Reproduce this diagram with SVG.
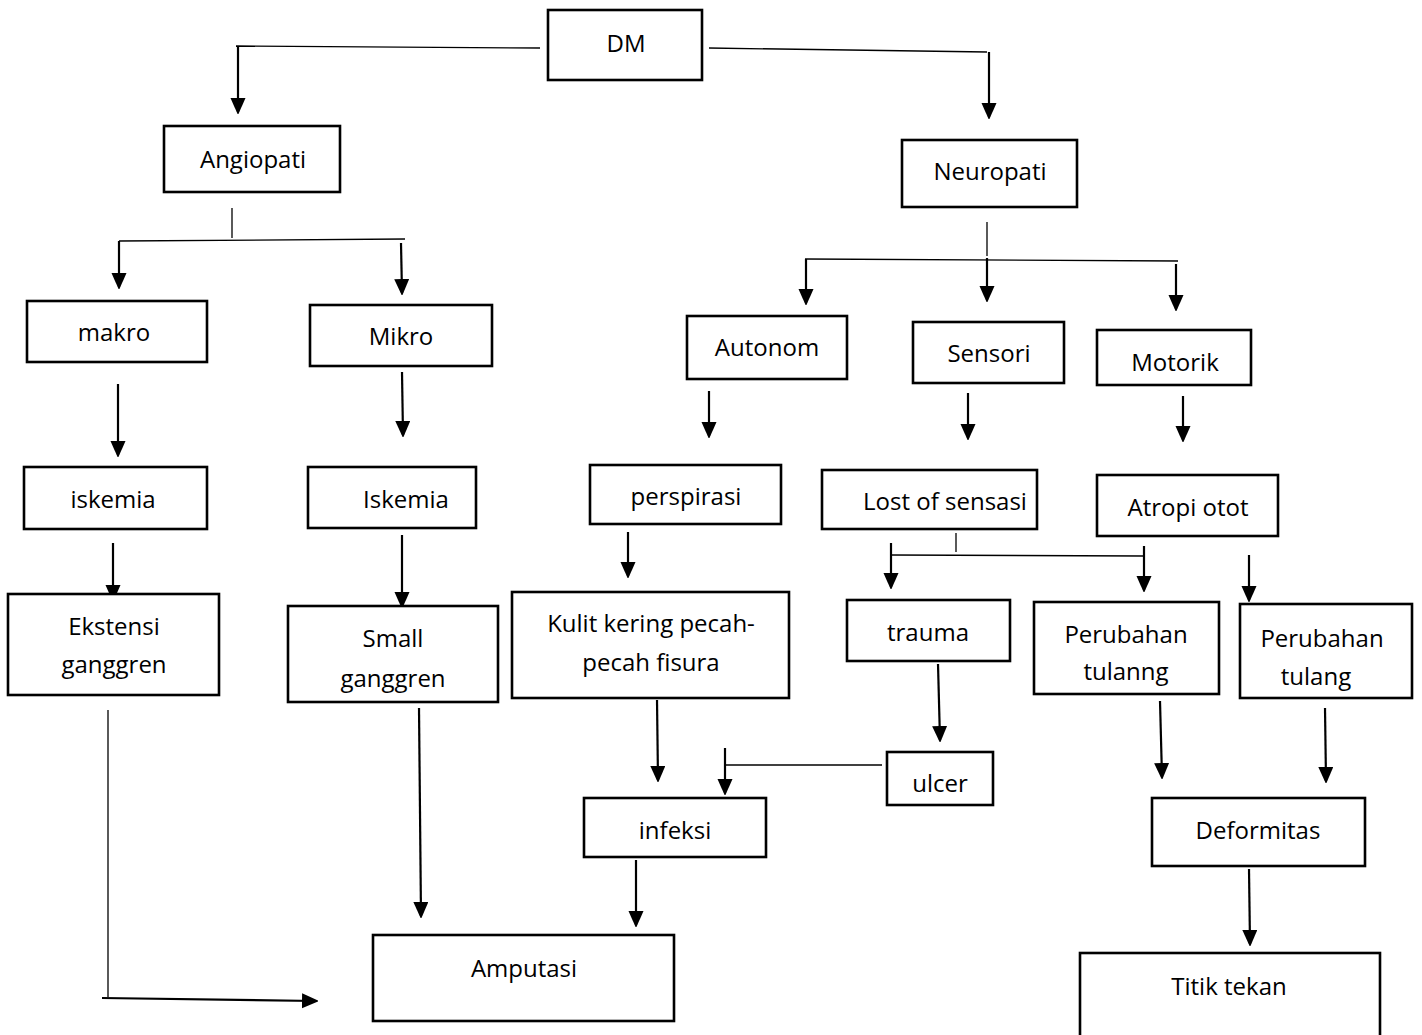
<svg xmlns="http://www.w3.org/2000/svg" width="1422" height="1035" viewBox="0 0 1422 1035">
<defs>
<marker id="ah" markerUnits="userSpaceOnUse" markerWidth="16" markerHeight="18" refX="14" refY="7.5" orient="auto">
<path d="M0,0 L17,7.5 L0,15 Z" fill="#000"/>
</marker>
<style>
.box{fill:#fff;stroke:#000;stroke-width:2.6}
.t{font-family:"Open Sans","Noto Sans",sans-serif;font-size:24px;fill:#000;text-anchor:middle;dominant-baseline:central}
.a{stroke:#000;stroke-width:2.2;fill:none;marker-end:url(#ah)}
.l{stroke:#000;stroke-width:1.3;fill:none}
</style>
</defs>
<rect width="1422" height="1035" fill="#fff"/>
<g id="connectors">
<path class="l" d="M540,48 L236,46"/>
<path class="a" d="M238,46 L238,112"/>
<path class="l" d="M709,48 L987,52"/>
<path class="a" d="M989,52 L989,117"/>
<path class="l" d="M232,208 L232,238"/>
<path class="l" d="M119,241 L405,239"/>
<path class="a" d="M119,241 L119,287"/>
<path class="a" d="M401,243 L402,293"/>
<path class="a" d="M118,384 L118,455"/>
<path class="a" d="M402,372 L403,435"/>
<path class="a" d="M113,543 L113,599"/>
<path class="a" d="M402,535 L402,606"/>
<path class="l" d="M108,710 L108,997"/>
<path class="a" d="M102,998 L316,1001"/>
<path class="a" d="M419,708 L421,916"/>
<path class="l" d="M987,222 L987,256"/>
<path class="l" d="M805,259 L1178,261"/>
<path class="a" d="M806,259 L806,303"/>
<path class="a" d="M987,258 L987,300"/>
<path class="a" d="M1176,264 L1176,309"/>
<path class="a" d="M709,391 L709,436"/>
<path class="a" d="M968,393 L968,438"/>
<path class="a" d="M1183,396 L1183,440"/>
<path class="a" d="M628,532 L628,576"/>
<path class="l" d="M956,533 L956,552"/>
<path class="l" d="M890,555 L1144,556"/>
<path class="a" d="M891,543 L891,587"/>
<path class="a" d="M1144,546 L1144,590"/>
<path class="a" d="M1249,555 L1249,600"/>
<path class="a" d="M657,700 L658,780"/>
<path class="a" d="M938,664 L940,740"/>
<path class="l" d="M882,765 L725,765"/>
<path class="a" d="M725,748 L725,793"/>
<path class="a" d="M1160,701 L1162,777"/>
<path class="a" d="M1325,708 L1326,781"/>
<path class="a" d="M636,860 L636,925"/>
<path class="a" d="M1249,869 L1250,944"/>
</g>
<g id="DM"><rect class="box" x="548" y="10" width="154" height="70"/><text class="t" x="626" y="42">DM</text></g>
<g id="Angiopati"><rect class="box" x="164" y="126" width="176" height="66"/><text class="t" x="253" y="158">Angiopati</text></g>
<g id="Neuropati"><rect class="box" x="902" y="140" width="175" height="67"/><text class="t" x="990" y="170">Neuropati</text></g>
<g id="makro"><rect class="box" x="27" y="301" width="180" height="61"/><text class="t" x="114" y="331">makro</text></g>
<g id="Mikro"><rect class="box" x="310" y="305" width="182" height="61"/><text class="t" x="401" y="335">Mikro</text></g>
<g id="iskemia"><rect class="box" x="24" y="467" width="183" height="62"/><text class="t" x="113" y="498">iskemia</text></g>
<g id="Iskemia"><rect class="box" x="308" y="467" width="168" height="61"/><text class="t" x="406" y="498">Iskemia</text></g>
<g id="Ekstensi"><rect class="box" x="8" y="594" width="211" height="101"/><text class="t" x="114" y="625">Ekstensi</text><text class="t" x="114" y="663">ganggren</text></g>
<g id="Small"><rect class="box" x="288" y="606" width="210" height="96"/><text class="t" x="393" y="637">Small</text><text class="t" x="393" y="677">ganggren</text></g>
<g id="Autonom"><rect class="box" x="687" y="316" width="160" height="63"/><text class="t" x="767" y="346">Autonom</text></g>
<g id="Sensori"><rect class="box" x="913" y="322" width="151" height="61"/><text class="t" x="989" y="352">Sensori</text></g>
<g id="Motorik"><rect class="box" x="1097" y="330" width="154" height="55"/><text class="t" x="1175" y="361">Motorik</text></g>
<g id="perspirasi"><rect class="box" x="590" y="465" width="191" height="59"/><text class="t" x="686" y="495">perspirasi</text></g>
<g id="Lost"><rect class="box" x="822" y="470" width="215" height="59"/><text class="t" x="945" y="500">Lost of sensasi</text></g>
<g id="Atropi"><rect class="box" x="1097" y="475" width="181" height="61"/><text class="t" x="1188" y="506">Atropi otot</text></g>
<g id="Kulit"><rect class="box" x="512" y="592" width="277" height="106"/><text class="t" x="651" y="622">Kulit kering pecah-</text><text class="t" x="651" y="661">pecah fisura</text></g>
<g id="trauma"><rect class="box" x="847" y="600" width="163" height="61"/><text class="t" x="928" y="631">trauma</text></g>
<g id="Perubahan1"><rect class="box" x="1034" y="602" width="185" height="92"/><text class="t" x="1126" y="633">Perubahan</text><text class="t" x="1126" y="670">tulanng</text></g>
<g id="Perubahan2"><rect class="box" x="1240" y="604" width="172" height="94"/><text class="t" x="1322" y="637">Perubahan</text><text class="t" x="1316" y="675">tulang</text></g>
<g id="ulcer"><rect class="box" x="887" y="752" width="106" height="53"/><text class="t" x="940" y="782">ulcer</text></g>
<g id="infeksi"><rect class="box" x="584" y="798" width="182" height="59"/><text class="t" x="675" y="829">infeksi</text></g>
<g id="Deformitas"><rect class="box" x="1152" y="798" width="213" height="68"/><text class="t" x="1258" y="829">Deformitas</text></g>
<g id="Amputasi"><rect class="box" x="373" y="935" width="301" height="86"/><text class="t" x="524" y="967">Amputasi</text></g>
<g id="Titik"><rect class="box" x="1080" y="953" width="300" height="90"/><text class="t" x="1229" y="985">Titik tekan</text></g>
</svg>
